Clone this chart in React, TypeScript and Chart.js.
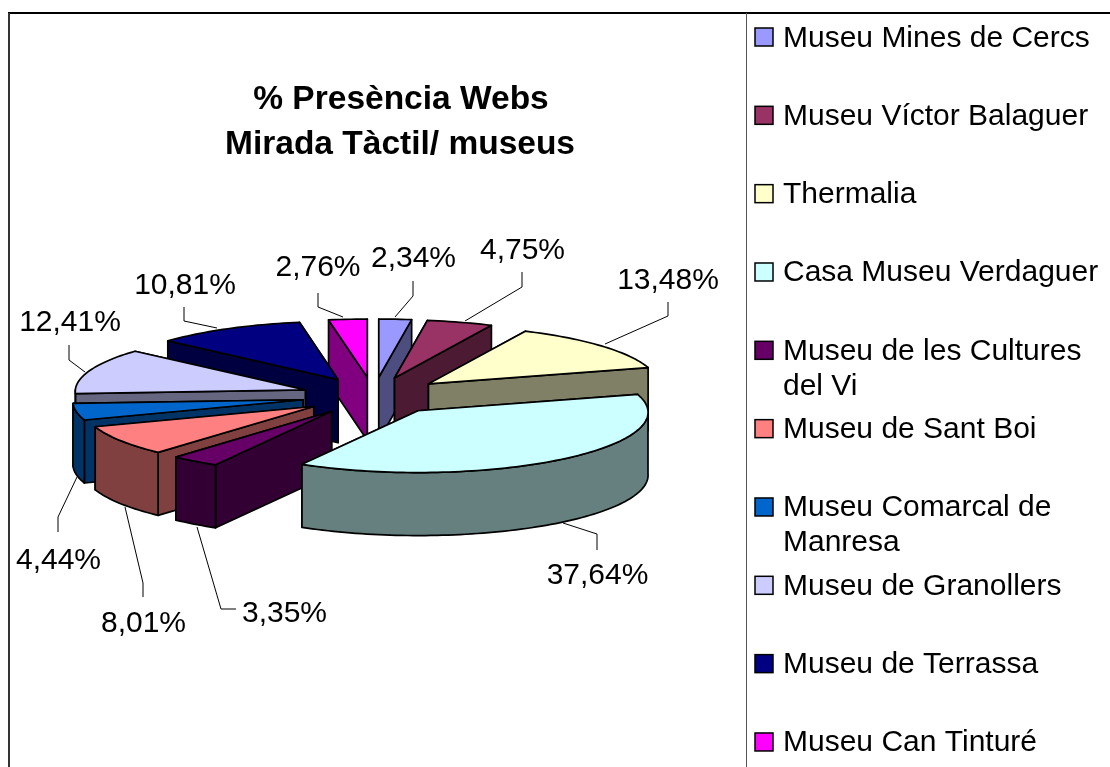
import React, { useEffect, useRef } from "react";
import { Chart, PieController, ArcElement } from "chart.js";

// ---------- data ----------
const categories: (string | string[])[] = [
  "Museu Mines de Cercs",
  "Museu Víctor Balaguer",
  "Thermalia",
  "Casa Museu Verdaguer",
  ["Museu de les Cultures", "del Vi"],
  "Museu de Sant Boi",
  ["Museu Comarcal de", "Manresa"],
  "Museu de Granollers",
  "Museu de Terrassa",
  "Museu Can Tinturé",
];
const shares = [2.34, 4.75, 13.48, 37.64, 3.35, 8.01, 4.44, 12.41, 10.81, 2.76];
const percentLabels = ["2,34%", "4,75%", "13,48%", "37,64%", "3,35%", "8,01%", "4,44%", "12,41%", "10,81%", "2,76%"];
const colors = ["#9999FF", "#993366", "#FFFFCC", "#CCFFFF", "#660066", "#FF8080", "#0066CC", "#CCCCFF", "#000080", "#FF00FF"];
const titleLines = ["% Presència Webs", "Mirada Tàctil/ museus"];

// ---------- layout ----------
const W = 1110;
const H = 767;
const FONT = '"Liberation Sans", Arial, sans-serif';
const PIE = { cx: 373.5, cy: 396, rx: 230, ry: 60, depth: 63, explode: 0.313, perspectiveX: 0.025, perspectiveY: 0.03 };
const PAINT_ORDER = [9, 0, 1, 2, 8, 7, 6, 5, 4, 3];
const LABEL_POS: [number, number][] = [
  [413.5, 267], [522.5, 259], [668, 289], [597.5, 584], [284.5, 622],
  [143.5, 632], [58.5, 569], [70, 331], [185, 294], [318, 276],
];
const LEADERS: [number, number][][] = [
  [[395, 317], [413, 296], [413, 281]],
  [[465, 321], [522, 287], [522, 272]],
  [[605, 344], [668, 316], [668, 302]],
  [[563, 523], [597, 534], [597, 550]],
  [[197, 527], [221, 609], [236, 609]],
  [[125, 507], [143, 583], [143, 597]],
  [[77, 477], [58, 517], [58, 532]],
  [[85, 372], [69, 360], [69, 345]],
  [[217, 328], [184, 321], [184, 307]],
  [[343, 317], [318, 307], [318, 293]],
];
const LEGEND = { swatchX: 755, swatchSize: 18, textX: 783, firstY: 37, pitch: 78.33, lineGap: 35 };

function shade(hex: string): string {
  const n = parseInt(hex.slice(1), 16);
  const c = [(n >> 16) & 255, (n >> 8) & 255, n & 255].map((v) => Math.round(v / 2));
  return `rgb(${c[0]},${c[1]},${c[2]})`;
}

class Pie3DController extends PieController {
  static id = "pie3d";
  draw() {
    const ctx = this.chart.ctx;
    const meta = this.getMeta();
    ctx.save();
    ctx.lineJoin = "round";
    ctx.lineWidth = 1.7;
    ctx.strokeStyle = "#000";
    for (const i of PAINT_ORDER) {
      const arc: any = meta.data[i];
      const s = arc.startAngle;
      const e = arc.endAngle;
      const mid = (s + e) / 2;
      const ax = PIE.cx + PIE.explode * PIE.rx * Math.cos(mid);
      const ay = PIE.cy + PIE.explode * PIE.ry * Math.sin(mid);
      const pt = (a: number): [number, number] => {
        const v = Math.sin(a);
        return [
          ax + PIE.rx * Math.cos(a) * (1 + PIE.perspectiveX * v),
          ay + PIE.ry * v * (1 + PIE.perspectiveY * v),
        ];
      };
      const top = colors[i];
      const side = shade(top);
      const face = (pts: [number, number][], fill: string) => {
        ctx.beginPath();
        pts.forEach((p, k) => (k ? ctx.lineTo(p[0], p[1]) : ctx.moveTo(p[0], p[1])));
        ctx.closePath();
        ctx.fillStyle = fill;
        ctx.fill();
        ctx.stroke();
      };
      const wall = (p: [number, number], q: [number, number]): [number, number][] => [
        p, q, [q[0], q[1] + PIE.depth], [p[0], p[1] + PIE.depth],
      ];
      const ps = pt(s);
      const pe = pt(e);
      // radial faces: the one facing away first
      const apex: [number, number] = [ax, ay];
      const startFront = Math.sin(s - Math.PI / 2) > 0;
      const endFront = Math.sin(e + Math.PI / 2) > 0;
      const radials: [boolean, [number, number]][] = [[startFront, ps], [endFront, pe]];
      radials.sort((a, b) => Number(a[0]) - Number(b[0]));
      radials.forEach(([, p]) => face(wall(apex, p), side));
      // outer wall, only where it faces the viewer
      const TAU = Math.PI * 2;
      for (let k = -1; k <= 1; k++) {
        const lo = Math.max(s, k * TAU);
        const hi = Math.min(e, k * TAU + Math.PI);
        if (hi > lo) {
          const n = Math.max(2, Math.ceil((hi - lo) * 40));
          const front: [number, number][] = [];
          const back: [number, number][] = [];
          for (let j = 0; j <= n; j++) {
            const p = pt(lo + ((hi - lo) * j) / n);
            front.push(p);
            back.unshift([p[0], p[1] + PIE.depth]);
          }
          face([...front, ...back], side);
        }
      }
      // top face
      const n = Math.max(2, Math.ceil((e - s) * 40));
      const pts: [number, number][] = [apex];
      for (let j = 0; j <= n; j++) pts.push(pt(s + ((e - s) * j) / n));
      face(pts, top);
    }
    ctx.restore();
  }
}

const decorations = {
  id: "decorations",
  beforeDraw(chart: any) {
    const ctx = chart.ctx;
    ctx.save();
    ctx.fillStyle = "#fff";
    ctx.fillRect(0, 0, W, H);
    ctx.strokeStyle = "#000";
    ctx.lineWidth = 2;
    ctx.beginPath();
    ctx.moveTo(8, 13);
    ctx.lineTo(W, 13);
    ctx.stroke();
    ctx.strokeStyle = "#333";
    ctx.beginPath();
    ctx.moveTo(9, 13);
    ctx.lineTo(9, H);
    ctx.stroke();
    ctx.strokeStyle = "#555";
    ctx.lineWidth = 1;
    ctx.beginPath();
    ctx.moveTo(746.5, 13);
    ctx.lineTo(746.5, H);
    ctx.stroke();
    ctx.restore();
  },
  afterDraw(chart: any) {
    const ctx = chart.ctx;
    ctx.save();
    ctx.fillStyle = "#000";
    ctx.textBaseline = "alphabetic";
    // title
    ctx.font = `bold 33.5px ${FONT}`;
    ctx.textAlign = "center";
    ctx.fillText(titleLines[0], 401, 109);
    ctx.fillText(titleLines[1], 400, 154);
    // leaders and percent labels
    ctx.strokeStyle = "#000";
    ctx.lineWidth = 1;
    ctx.font = `30px ${FONT}`;
    percentLabels.forEach((t, i) => {
      ctx.beginPath();
      LEADERS[i].forEach((p, k) => (k ? ctx.lineTo(p[0], p[1]) : ctx.moveTo(p[0], p[1])));
      ctx.stroke();
      ctx.fillText(t, LABEL_POS[i][0], LABEL_POS[i][1]);
    });
    // legend
    ctx.textAlign = "left";
    chart.data.labels.forEach((label: string | string[], i: number) => {
      const y = LEGEND.firstY + LEGEND.pitch * i;
      ctx.fillStyle = colors[i];
      ctx.fillRect(LEGEND.swatchX, y - 9, LEGEND.swatchSize, LEGEND.swatchSize);
      ctx.lineWidth = 1.5;
      ctx.strokeRect(LEGEND.swatchX, y - 9, LEGEND.swatchSize, LEGEND.swatchSize);
      ctx.fillStyle = "#000";
      const lines = Array.isArray(label) ? label : [label];
      lines.forEach((l, k) => ctx.fillText(l, LEGEND.textX, y + 9.5 + k * LEGEND.lineGap));
    });
    ctx.restore();
  },
};

Chart.register(Pie3DController, ArcElement);

export default function App() {
  const ref = useRef<HTMLCanvasElement>(null);
  useEffect(() => {
    document.body.style.margin = "0";
    document.body.style.overflow = "hidden";
    const chart = new Chart(ref.current!, {
      type: "pie3d" as any,
      data: {
        labels: categories as any,
        datasets: [{ data: shares, backgroundColor: colors, clip: false } as any],
      },
      options: {
        responsive: false,
        animation: false,
        plugins: { legend: { display: false }, tooltip: { enabled: false }, title: { display: false } },
      } as any,
      plugins: [decorations],
    });
    return () => chart.destroy();
  }, []);
  return <canvas ref={ref} width={W} height={H} style={{ display: "block" }} />;
}
